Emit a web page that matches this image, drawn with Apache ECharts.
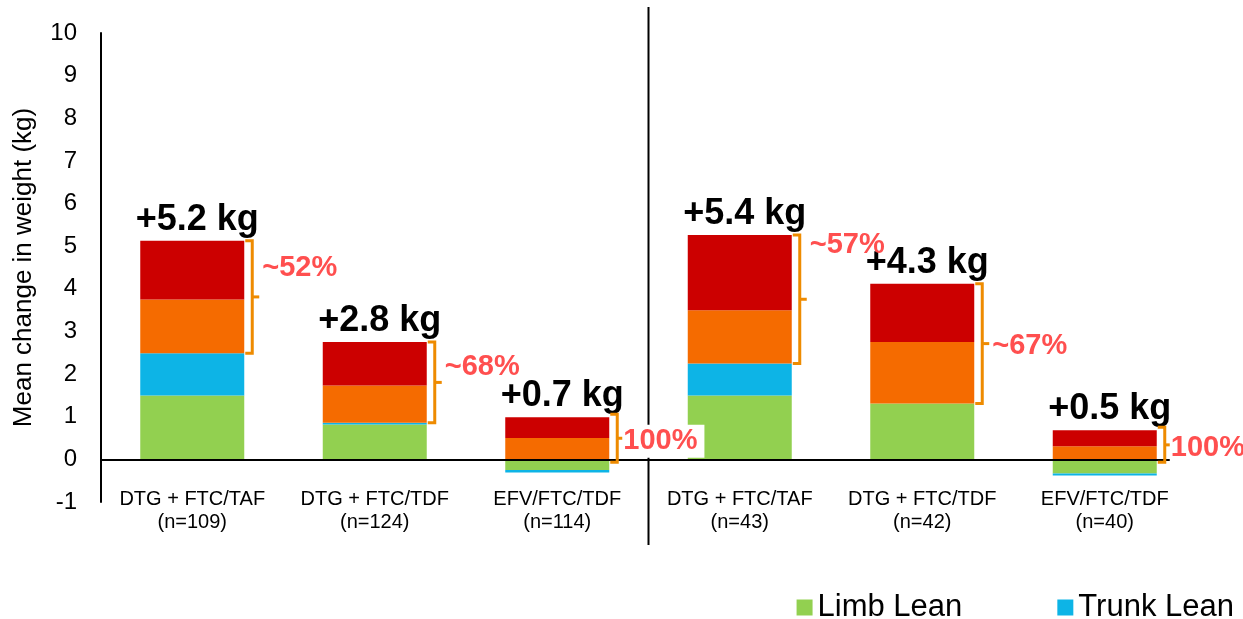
<!DOCTYPE html>
<html>
<head>
<meta charset="utf-8">
<script src="https://cdn.jsdelivr.net/npm/echarts@6/dist/echarts.min.js"></script>
<style>
html,body{margin:0;padding:0;background:#fff;}
#chart{width:1243px;height:619px;}
</style>
</head>
<body>
<div id="chart"></div>
<script>
// ---- data ----
const categories = [
  'DTG + FTC/TAF\n(n=109)',
  'DTG + FTC/TDF\n(n=124)',
  'EFV/FTC/TDF\n(n=114)',
  'DTG + FTC/TAF\n(n=43)',
  'DTG + FTC/TDF\n(n=42)',
  'EFV/FTC/TDF\n(n=40)'
];
const limbLean  = [1.50, 0.82, -0.25, 1.50, 1.31, -0.33];
const trunkLean = [0.99, 0.04, -0.06, 0.75, 0.00, -0.05];
const limbFat   = [1.26, 0.87, 0.50, 1.25, 1.44, 0.31];
const trunkFat  = [1.38, 1.02, 0.49, 1.76, 1.37, 0.37];
const totalLabels = ['+5.2 kg', '+2.8 kg', '+0.7 kg', '+5.4 kg', '+4.3 kg', '+0.5 kg'];
const fatShareLabels = ['~52%', '~68%', '100%', '~57%', '~67%', '100%'];
const yMin = -1, yMax = 10, yStep = 1;

// ---- layout / style ----
const FONT = '"Liberation Sans", Arial, sans-serif';
const GRID_LEFT = 101, GRID_RIGHT = 47, GRID_TOP = 33, GRID_BOTTOM = 117;
const BAR_W = 104;
const BRACKET = '#EE8B00';
const PCT_COLOR = '#FF4F4F';
const pctNudge = [-29, -15, 3, -54, 2, 3];

const fatRange = categories.map((c, i) => {
  const low = Math.max(limbLean[i], 0) + Math.max(trunkLean[i], 0);
  const high = low + Math.max(limbFat[i], 0) + Math.max(trunkFat[i], 0);
  return [i, low, high];
});

const chart = echarts.init(document.getElementById('chart'), null, {renderer: 'canvas'});

function barSeries(name, data, color) {
  return {
    name: name, type: 'bar', stack: 'total', data: data,
    barWidth: BAR_W, itemStyle: {color: color},
    emphasis: {disabled: true}
  };
}

const option = {
  animation: false,
  backgroundColor: '#fff',
  textStyle: {fontFamily: FONT},
  grid: {left: GRID_LEFT, right: GRID_RIGHT, top: GRID_TOP, bottom: GRID_BOTTOM, containLabel: false},
  legend: {
    data: ['Limb Lean', 'Trunk Lean'],
    right: 4, top: 587,
    itemWidth: 16, itemHeight: 16, itemGap: 95,
    icon: 'rect',
    textStyle: {fontSize: 31, color: '#000', fontFamily: FONT}
  },
  xAxis: {
    type: 'category', data: categories,
    position: 'bottom', offset: -14,
    axisLine: {show: false}, axisTick: {show: false},
    axisLabel: {fontSize: 20, lineHeight: 23, color: '#000', margin: 0, fontFamily: FONT, interval: 0}
  },
  yAxis: {
    type: 'value', min: yMin, max: yMax, interval: yStep,
    name: 'Mean change in weight (kg)', nameLocation: 'middle', nameRotate: 90, nameGap: 64,
    nameTextStyle: {fontSize: 26, color: '#000', fontFamily: FONT},
    axisLine: {show: true, onZero: false, lineStyle: {color: '#000', width: 2}},
    axisTick: {show: false}, splitLine: {show: false},
    axisLabel: {fontSize: 24, color: '#000', margin: 24, fontFamily: FONT}
  },
  series: [
    Object.assign(barSeries('Limb Lean', limbLean, '#92D050'), {
      markLine: {
        silent: true, symbol: 'none', label: {show: false},
        lineStyle: {color: '#000', width: 2, type: 'solid'},
        data: [{yAxis: 0}], z: 5
      }
    }),
    barSeries('Trunk Lean', trunkLean, '#0DB4E6'),
    barSeries('Limb Fat', limbFat, '#F56B00'),
    Object.assign(barSeries('Trunk Fat', trunkFat, '#CC0000'), {
      label: {
        show: true, position: 'top', distance: 3, offset: [5, 0],
        formatter: p => totalLabels[p.dataIndex],
        fontSize: 36, fontWeight: 'bold', color: '#000', fontFamily: FONT
      }
    }),
    {
      type: 'custom', name: 'fatBracket', z: 10, silent: true,
      data: fatRange,
      renderItem: function (params, api) {
        const i = api.value(0);
        const lo = api.coord([i, api.value(1)]);
        const hi = api.coord([i, api.value(2)]);
        const full = fatShareLabels[i] === '100%';
        const xr = lo[0] + BAR_W / 2;
        const xv = xr + 8;
        const ext = full ? 3 : 0;
        const yTop = hi[1] - ext, yBot = lo[1] + ext;
        const ym = (yTop + yBot) / 2;
        const textStyle = {
          text: fatShareLabels[i], fill: PCT_COLOR,
          font: 'bold 29px ' + FONT, align: 'left', verticalAlign: 'middle'
        };
        if (full) {
          textStyle.backgroundColor = '#fff';
          textStyle.padding = [2, 7, 2, 1];
        }
        return {
          type: 'group',
          children: [
            {type: 'polyline', shape: {points: [[xr + 1, yTop], [xv, yTop], [xv, yBot], [xr + 1, yBot]]},
             style: {stroke: BRACKET, lineWidth: 3, fill: null}},
            {type: 'line', shape: {x1: xv, y1: ym, x2: xv + 7, y2: ym},
             style: {stroke: BRACKET, lineWidth: 3}},
            {type: 'text', x: xr + (full ? 13 : 18), y: ym + pctNudge[i], style: textStyle}
          ]
        };
      }
    }
  ],
  graphic: [{
    type: 'line', z: 1, silent: true,
    shape: {x1: GRID_LEFT + (1243 - GRID_LEFT - GRID_RIGHT) / 2, y1: 7,
            x2: GRID_LEFT + (1243 - GRID_LEFT - GRID_RIGHT) / 2, y2: 545},
    style: {stroke: '#000', lineWidth: 2}
  }]
};
chart.setOption(option);
</script>
</body>
</html>
